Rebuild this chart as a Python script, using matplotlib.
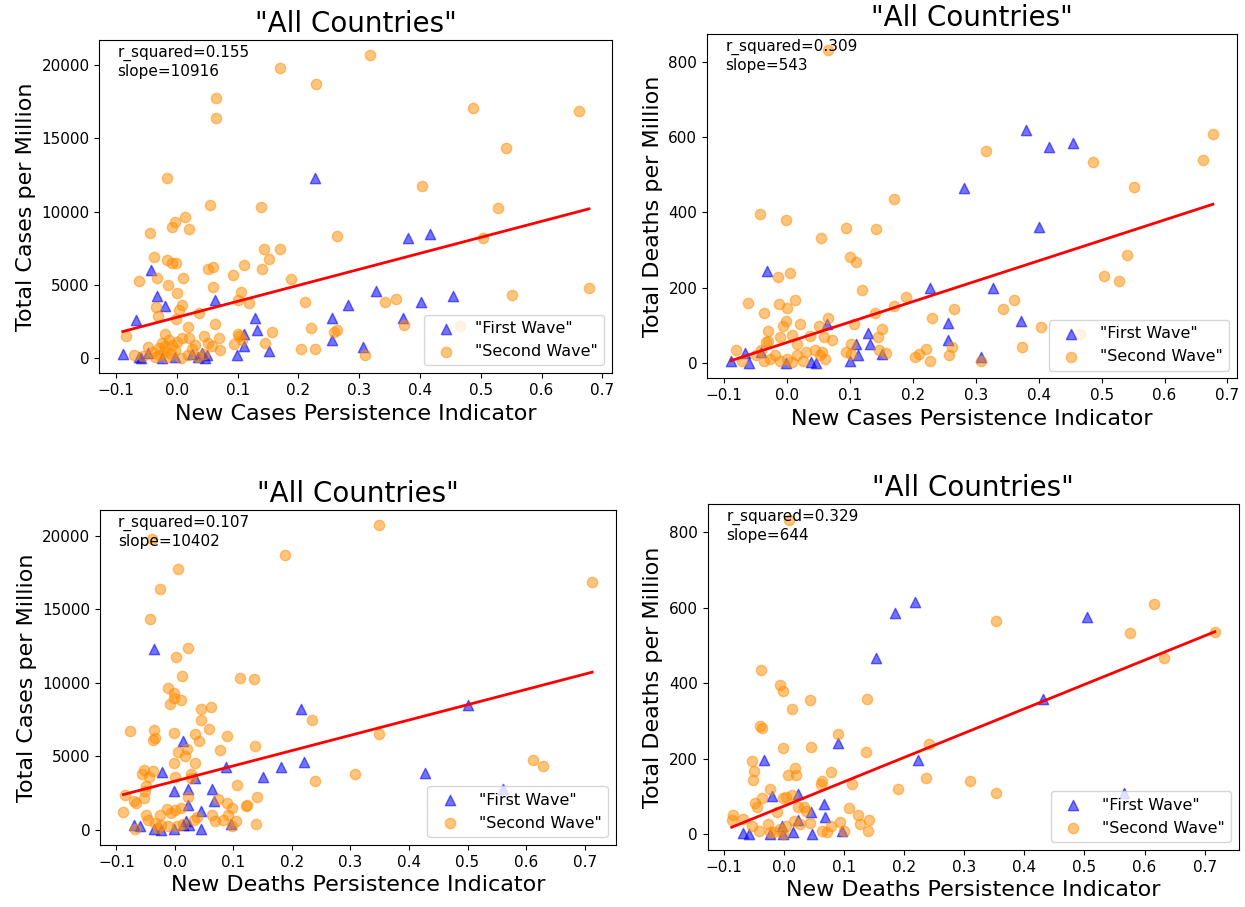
import matplotlib
matplotlib.use('Agg')
import matplotlib.pyplot as plt
import numpy as np

# --- New Cases PI vs Total Cases per Million ---
p1_first_x = [0.227, 0.380, 0.416, -0.042, -0.033, -0.019, 0.062, -0.068, 0.129, 0.131, 0.111,
              0.111, 0.256, 0.282, 0.328, 0.372, 0.401, 0.455, 0.255, 0.307, 0.151, 0.099,
              -0.089, -0.063, -0.059, -0.047, -0.025, -0.003, 0.025, 0.035, 0.042, 0.049, 0.046]
p1_first_y = [12270, 8230, 8480, 6020, 4250, 3570, 3950, 2610, 2770, 1910, 1680,
              800, 2770, 3640, 4550, 2730, 3860, 4270, 1250, 750, 520, 230,
              300, 70, 0, 340, 0, 110, 270, 90, 340, 230, 0]
p1_second_x = [0.317, 0.170, 0.229, 0.064, 0.064, 0.488, 0.662, 0.541, -0.016, 0.403, 0.054,
               0.139, 0.529, -0.045, -0.008, -0.003, 0.014, 0.020, 0.264, 0.504, -0.038, -0.016,
               -0.008, -0.001, 0.143, 0.169, 0.151, 0.052, 0.059, 0.110, 0.140, 0.093, -0.063,
               -0.032, 0.010, -0.015, 0.188, 0.060, 0.001, 0.106, 0.678, 0.552, 0.100, 0.118,
               0.210, 0.343, 0.361, -0.034, 0.008, 0.004, 0.037, -0.031, -0.002, 0.063, 0.018,
               0.374, 0.465, 0.220, 0.264, 0.259, 0.157, -0.083, -0.019, 0.009, 0.020, 0.044,
               0.070, 0.101, 0.103, 0.094, 0.107, 0.145, 0.052, 0.057, 0.030, -0.013, -0.008,
               -0.025, -0.030, -0.047, -0.022, -0.003, 0.071, 0.204, 0.227, -0.071, -0.055,
               -0.036, -0.030, -0.017, 0.007, 0.019, 0.035, 0.309, -0.040, -0.010, 0.025,
               0.045, -0.020, 0.000]
p1_second_y = [20680, 19770, 18680, 17730, 16410, 17090, 16840, 14360, 12300, 11770, 10480,
               10320, 10230, 8570, 8930, 9320, 9640, 8800, 8340, 8180, 6890, 6700,
               6500, 6500, 7450, 7450, 6770, 6090, 6230, 6340, 6070, 5680, 5300,
               5450, 5450, 5020, 5410, 4840, 4480, 4500, 4770, 4320, 3950, 3750,
               3800, 3800, 4020, 3520, 3640, 3300, 3070, 2910, 2680, 2360, 2160,
               2230, 2200, 2050, 1930, 1770, 1820, 1500, 1660, 1360, 1360, 1480,
               1410, 1660, 1480, 980, 1250, 1020, 1020, 800, 910, 1250, 910,
               1020, 680, 750, 450, 570, 570, 610, 640, 230, 180,
               110, 230, 110, 45, 230, 110, 230, 400, 300, 600,
               300, 800, 1100]

# --- New Cases PI vs Total Deaths per Million ---
p2_first_x = [0.380, 0.416, 0.455, 0.281, 0.401, -0.032, 0.227, 0.327, 0.256, 0.372, 0.128,
              0.255, 0.131, 0.110, 0.063, 0.151, 0.308, 0.100, -0.089, -0.067, -0.060, -0.041,
              -0.001, 0.038, 0.046, 0.112]
p2_first_y = [618, 575, 586, 466, 361, 244, 198, 198, 106, 110, 80,
              60, 49, 49, 102, 24, 15, 6, 6, 27, 0, 28,
              0, 2, 0, 20]
p2_second_x = [0.065, 0.316, 0.487, 0.661, 0.677, 0.552, 0.170, -0.043, -0.002, 0.094, 0.141,
               0.054, 0.100, 0.110, 0.540, 0.005, -0.014, 0.504, 0.528, 0.119, 0.189, 0.361,
               0.343, 0.265, 0.170, 0.139, -0.062, -0.037, -0.013, 0.000, 0.012, 0.230, 0.065,
               -0.002, 0.020, -0.007, 0.051, 0.107, -0.030, 0.151, 0.403, 0.465, 0.144, 0.007,
               -0.011, 0.037, 0.058, 0.072, -0.031, -0.034, 0.016, 0.102, 0.373, 0.262, 0.221,
               0.146, 0.157, 0.094, 0.101, 0.209, 0.204, 0.258, 0.227, -0.081, 0.309,
               -0.049, -0.036, -0.027, -0.019, -0.011, 0.000, 0.008, 0.016, 0.025, 0.030,
               0.044, 0.052, 0.055, 0.060, -0.071, -0.041]
p2_second_y = [833, 564, 533, 539, 610, 467, 436, 396, 380, 359, 356,
               333, 282, 267, 286, 240, 229, 231, 219, 194, 175, 168,
               143, 143, 152, 133, 158, 133, 157, 145, 166, 120, 120,
               111, 104, 97, 98, 102, 84, 89, 94, 77, 68, 74,
               68, 72, 68, 60, 58, 56, 51, 51, 41, 41, 37,
               33, 27, 30, 24, 24, 15, 22, 5, 33, 6,
               20, 6, 11, 20, 6, 11, 2, 20, 6, 28,
               33, 20, 28, 11, 6, 33]

# --- New Deaths PI vs Total Cases per Million ---
p3_first_x = [-0.035, 0.216, 0.500, 0.014, -0.022, 0.088, 0.034, 0.151, 0.182, 0.221, 0.427,
              0.561, -0.002, 0.023, 0.064, 0.067, 0.022, 0.044, -0.070, -0.059, -0.035, -0.023,
              -0.001, 0.014, 0.024, 0.045, 0.096, 0.019]
p3_first_y = [12300, 8220, 8520, 6050, 3960, 4240, 3510, 3620, 4260, 4580, 3850,
              2790, 2670, 2790, 2790, 1930, 1700, 1250, 340, 230, 45, 0,
              70, 340, 290, 70, 390, 610]
p3_second_x = [0.349, -0.040, 0.188, 0.006, -0.025, -0.042, 0.022, 0.002, 0.012, 0.111, 0.135,
               -0.011, -0.002, -0.002, -0.008, 0.010, 0.044, 0.062, 0.045, 0.235, 0.059, -0.077,
               -0.035, -0.038, -0.034, -0.002, 0.034, 0.089, 0.041, 0.136, 0.349, 0.077, 0.006,
               0.020, 0.017, -0.001, 0.034, 0.611, 0.629, 0.307, 0.239, -0.053, -0.037, -0.057,
               -0.045, 0.028, 0.000, 0.027, 0.106, -0.050, -0.051, -0.052, -0.086, 0.023, 0.074,
               0.141, -0.070, -0.066, 0.089, 0.098, 0.121, 0.124, -0.088, -0.014, 0.000, 0.010,
               -0.006, -0.026, -0.049, 0.063, 0.082, 0.090, 0.038, 0.032, 0.105, 0.098, 0.139,
               -0.046, -0.034, -0.023, -0.012, 0.003, 0.014, -0.029, -0.068, 0.068, 0.713]
p3_second_y = [20730, 19820, 18730, 17780, 16420, 14380, 12340, 11780, 10490, 10350, 10240,
               9650, 9330, 8990, 8560, 8830, 8220, 8360, 7450, 7450, 6890, 6750,
               6800, 6090, 6230, 6590, 6500, 6370, 6050, 5690, 6520, 5460, 5320,
               5480, 5050, 4510, 4510, 4780, 4330, 3780, 3330, 4050, 4010, 3780,
               3620, 3780, 3560, 3510, 3060, 2990, 2650, 2150, 2360, 2200, 2080,
               2220, 1950, 1810, 1790, 1500, 1630, 1700, 1200, 1430, 1360, 1450,
               1130, 1020, 1020, 970, 660, 970, 840, 660, 610, 230, 390,
               680, 450, 340, 230, 230, 390, 110, 70, 570, 16840]

# --- New Deaths PI vs Total Deaths per Million ---
p4_first_x = [0.218, 0.184, 0.504, 0.153, 0.431, 0.090, -0.033, 0.223, -0.020, 0.024, 0.066,
              0.045, 0.068, 0.565, -0.068, -0.059, -0.024, -0.001, 0.015, 0.047, 0.096, 0.023,
              -0.004]
p4_first_y = [616, 585, 575, 466, 359, 241, 196, 196, 101, 107, 81,
              58, 47, 109, 3, 1, 0, 0, 5, 1, 10, 39,
              23]
p4_second_x = [0.008, 0.352, 0.616, 0.575, 0.717, 0.633, -0.039, -0.007, -0.001, 0.043, 0.138,
               0.013, -0.040, -0.036, 0.090, -0.001, 0.045, 0.137, 0.241, -0.053, -0.050, -0.051,
               0.019, 0.007, 0.020, 0.079, 0.061, 0.064, 0.113, 0.237, 0.310, 0.190, 0.352,
               -0.023, -0.036, -0.049, -0.045, -0.001, 0.004, 0.013, 0.024, 0.033, 0.036,
               -0.012, 0.108, 0.123, 0.126, 0.142, 0.140, -0.084, -0.087, -0.068, -0.053,
               -0.041, -0.024, -0.007, 0.004, 0.016, 0.027, 0.044, 0.064, 0.071, 0.079,
               0.093, 0.100, -0.027, -0.016, -0.001]
p4_second_y = [833, 564, 610, 532, 537, 466, 435, 396, 379, 355, 359,
               332, 287, 281, 266, 228, 230, 219, 240, 194, 167, 144,
               175, 158, 158, 165, 134, 142, 132, 150, 142, 119, 110,
               119, 97, 83, 72, 96, 98, 104, 73, 72, 63,
               59, 71, 50, 27, 39, 8, 51, 38, 41, 23,
               10, 5, 14, 23, 36, 27, 29, 10, 5, 23,
               32, 10, 27, 5, 1]

# regression results as printed on the chart
r_squared = [0.155, 0.309, 0.107, 0.329]
slopes = [10916, 543, 10402, 644]
intercepts = [2790, 54.3, 3310, 74.8]

x_labels = ['New Cases Persistence Indicator', 'New Cases Persistence Indicator',
            'New Deaths Persistence Indicator', 'New Deaths Persistence Indicator']
y_labels = ['Total Cases per Million', 'Total Deaths per Million',
            'Total Cases per Million', 'Total Deaths per Million']

panels = [(p1_first_x, p1_first_y, p1_second_x, p1_second_y),
          (p2_first_x, p2_first_y, p2_second_x, p2_second_y),
          (p3_first_x, p3_first_y, p3_second_x, p3_second_y),
          (p4_first_x, p4_first_y, p4_second_x, p4_second_y)]

# axes boxes (left, bottom, width, height) in figure fractions
boxes = [(0.0799, 0.5884, 0.4119, 0.3675),
         (0.5679, 0.5827, 0.4257, 0.3798),
         (0.0803, 0.0684, 0.4142, 0.3693),
         (0.5683, 0.0628, 0.4269, 0.3815)]

fig = plt.figure(figsize=(12.45, 9.07), dpi=100)

for i, (fx, fy, sx, sy) in enumerate(panels):
    ax = fig.add_axes(boxes[i])
    ax.scatter(fx, fy, marker='^', color='blue', alpha=0.55, s=55, label='"First Wave"')
    ax.scatter(sx, sy, marker='o', color='darkorange', alpha=0.5, s=55, label='"Second Wave"')

    all_x = np.concatenate([fx, sx])
    xs = np.array([all_x.min(), all_x.max()])
    ax.plot(xs, slopes[i] * xs + intercepts[i], color='red', linewidth=2)

    ax.text(0.035, 0.985, 'r_squared=%.3f\nslope=%d' % (r_squared[i], slopes[i]),
            transform=ax.transAxes, va='top', ha='left', fontsize=11)
    ax.set_title('"All Countries"', fontsize=20)
    ax.set_xlabel(x_labels[i], fontsize=16)
    ax.set_ylabel(y_labels[i], fontsize=16)
    ax.tick_params(labelsize=11)
    ax.legend(loc='lower right', fontsize=11.5)

fig.savefig('out.png', dpi=100)
